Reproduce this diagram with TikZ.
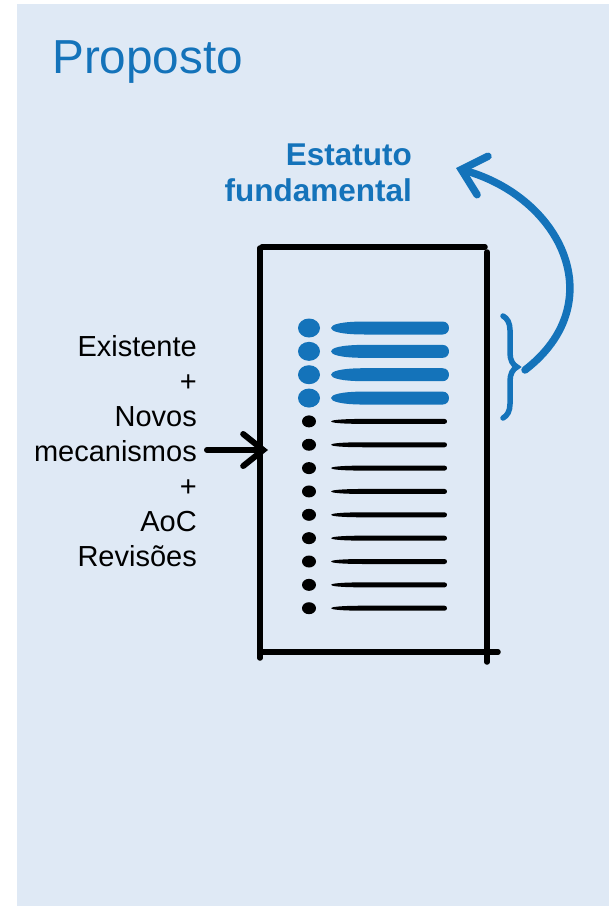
\documentclass[tikz,border=0pt]{standalone}
\usepackage{fontspec}
\setmainfont{Liberation Sans}
\usetikzlibrary{arrows.meta,positioning,decorations.pathreplacing}
\definecolor{propblue}{RGB}{20,115,186}
\definecolor{propbg}{RGB}{223,233,245}

% one tapered line of the list: y, half thickness, right end, colour
\newcommand{\listline}[4]{%
  \fill[#4] (331,#1) .. controls (331,#1-0.5*#2) and (340,#1-#2) .. (365,#1-#2) -- (#3-#2,#1-#2)
    .. controls (#3+0.33*#2,#1-#2) and (#3+0.33*#2,#1+#2) .. (#3-#2,#1+#2)
    -- (365,#1+#2) .. controls (340,#1+#2) and (331,#1+0.5*#2) .. (331,#1) -- cycle;}

\begin{document}
\begin{tikzpicture}[x=1pt, y=-1pt,
        title/.style={inner sep=0pt, anchor=base west, text=propblue, font=\fontsize{47.7}{57}\selectfont},
        note/.style={inner sep=0pt, anchor=base east, align=right, text=propblue, font=\bfseries\fontsize{31.5}{36}\selectfont},
        sidetext/.style={inner sep=0pt, anchor=base east, align=right, font=\fontsize{29}{34.9}\selectfont},
        frame/.style={line width=5.5pt, line cap=round},
        inarrow/.style={line width=6pt, line cap=round, -{Straight Barb[length=20pt, width=32pt, line cap=round]}},
        uparrow/.style={propblue, line width=7.5pt, line cap=round, -{Straight Barb[length=22pt, width=40pt, line cap=round]}}
    ]
        \useasboundingbox (0,0) rectangle (609,906);
        \fill[propbg] (17,4) rectangle (609,906);

        % Title
        \node[title] (title) at (52,73) {Proposto};

        % Note on top
        \node[note] (status) at (412,201) {Estatuto\\fundamental};

        % Text on the left
        \node[sidetext] (source) at (197,566) {Existente\\+\\Novos\\mecanismos\\+\\AoC\\Revisões};

        % The document
        \draw[frame] (260,248) -- (260,658);
        \draw[frame] (262,247) -- (485,247);
        \draw[frame] (487,252) -- (487,662);
        \draw[frame] (262,652) -- (498,652);

        % Rows of the list
        \foreach \i in {0,...,3} {
            \pgfmathsetmacro{\y}{328+23.35*\i}
            \fill[propblue] (309,\y) ellipse [x radius=11, y radius=9.5];
            \listline{\y}{6.5}{449}{propblue}
        }
        \foreach \i in {4,...,12} {
            \pgfmathsetmacro{\y}{328+23.35*\i}
            \fill (309,\y) ellipse [x radius=7, y radius=6];
            \listline{\y}{2.5}{447}{black}
        }

        % Brace and arrows
        \coordinate (entry) at (268,450);
        \coordinate (bracetip) at (525,370);
        \coordinate (goal) at (456,168);
        \draw[propblue, line width=5.5pt, line cap=round, decorate, decoration={brace, amplitude=14pt}] (503,316) -- (503,418);
        \draw[inarrow, shorten <=10pt] (source.east |- entry) -- (entry);
        \draw[uparrow] (bracetip) .. controls (612,303) and (562,198) .. (goal);
    \end{tikzpicture}
\end{document}
